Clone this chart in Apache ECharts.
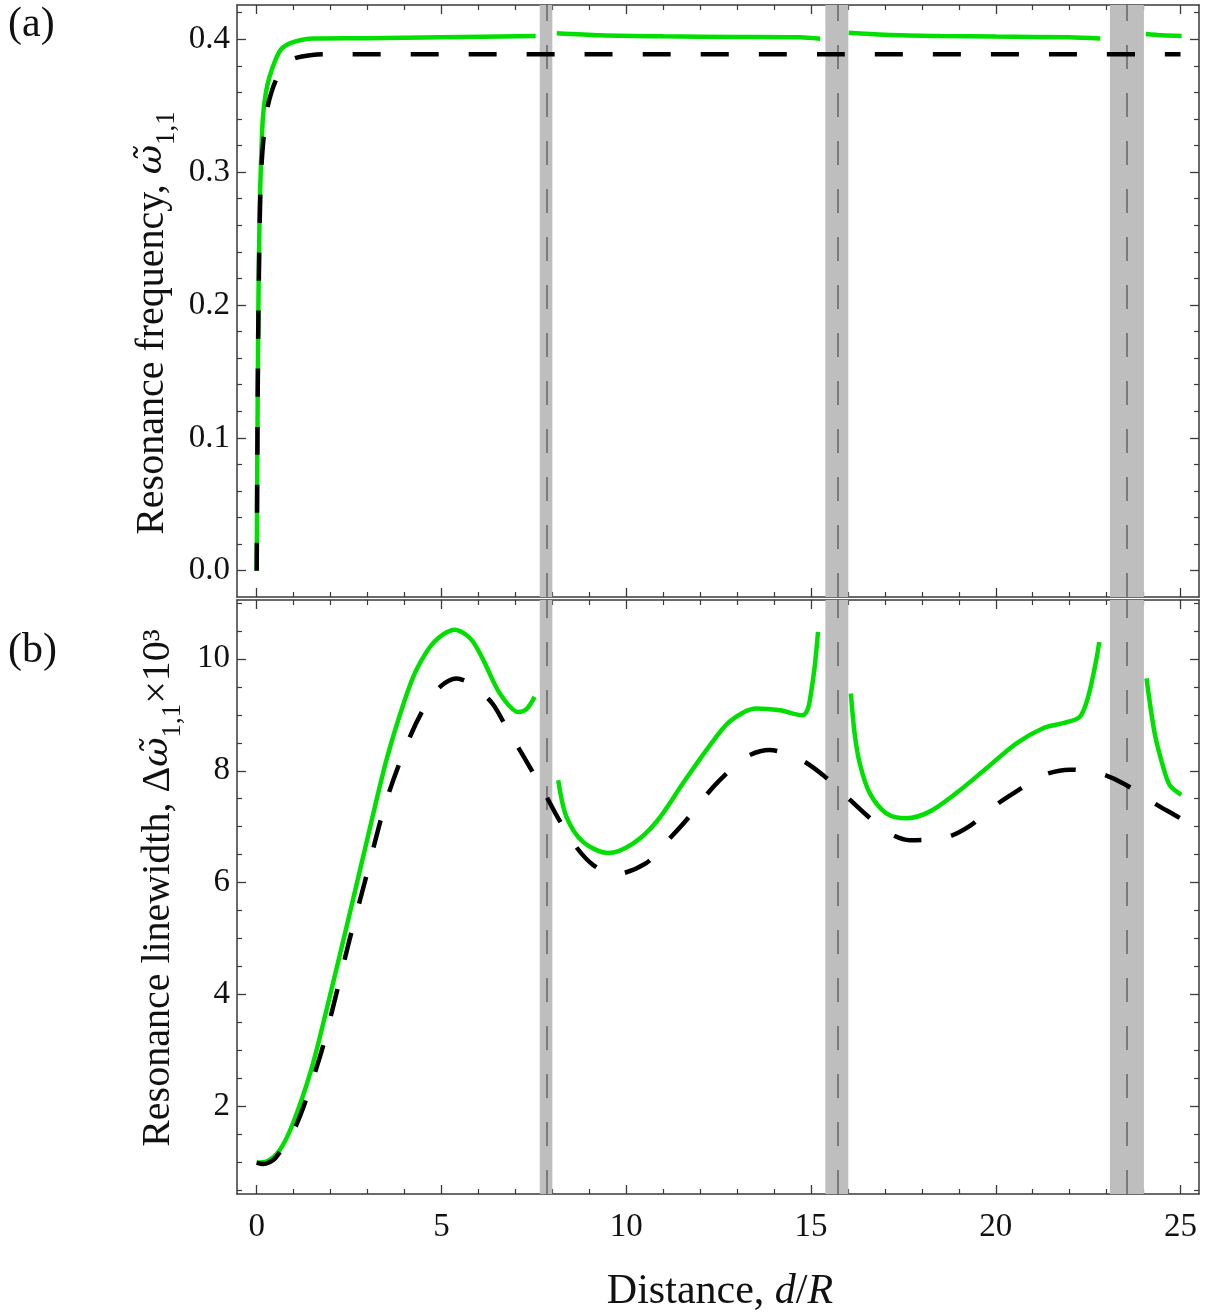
<!DOCTYPE html>
<html>
<head>
<meta charset="utf-8">
<script src="https://cdn.jsdelivr.net/npm/echarts@6/dist/echarts.min.js"></script>
<style>
html,body{margin:0;padding:0;background:#fff;}
#chart{width:1216px;height:1315px;}
</style>
</head>
<body>
<div id="chart"></div>
<script>
// ---------- data ----------
const xMajor = [0, 5, 10, 15, 20, 25];
const xMinor = [1,2,3,4,6,7,8,9,11,12,13,14,16,17,18,19,21,22,23,24];
const yTopMajor = [0.0, 0.1, 0.2, 0.3, 0.4];
const yTopMinor = [0.02,0.04,0.06,0.08,0.12,0.14,0.16,0.18,0.22,0.24,0.26,0.28,0.32,0.34,0.36,0.38,0.42];
const yBotMajor = [2, 4, 6, 8, 10];
const yBotMinor = [0.5,1,1.5,2.5,3,3.5,4.5,5,5.5,6.5,7,7.5,8.5,9,9.5,10.5,11];

// gray bands (start, end) and their dashed centre lines
const bandStart = [7.66, 15.39, 23.09];
const bandEnd   = [8.00, 16.01, 24.01];
const bandCenter = [7.85, 15.72, 23.55];

// (a) resonance frequency
const topDashed = [[0,0],[0.01,0.05],[0.02,0.1],[0.035,0.16],[0.05,0.2],[0.08,0.26],[0.12,0.3],[0.2,0.33],[0.3,0.35],[0.53,0.37],[0.8,0.381],[1.03,0.3857],[1.5,0.3882],[2,0.3887],[25,0.3887]];
const topGreen1 = [[0,0],[0.01,0.05],[0.02,0.1],[0.035,0.16],[0.05,0.21],[0.08,0.27],[0.12,0.31],[0.17,0.342],[0.25,0.36],[0.35,0.372],[0.5,0.384],[0.66,0.3925],[0.9,0.397],[1.2,0.3995],[1.5,0.4005],[3,0.4008],[5,0.4015],[7.55,0.4025]];
const topGreen2 = [[8.12,0.4045],[9.3,0.403],[11,0.4022],[13,0.4018],[14.7,0.4015],[15.25,0.4004]];
const topGreen3 = [[16.02,0.405],[17,0.4035],[18.5,0.4025],[20,0.402],[22,0.4015],[22.83,0.4005]];
const topGreen4 = [[24.06,0.404],[24.5,0.403],[25.03,0.4025]];

// (b) resonance linewidth x 10^3
const botDashed = [[0,1.0],[0.17,0.975],[0.5,1.08],[1.07,1.67],[1.71,2.89],[2.07,3.79],[2.5,4.95],[2.92,6.0],[3.5,7.45],[4.15,8.61],[4.6,9.2],[5.0,9.52],[5.4,9.65],[5.8,9.55],[6.38,9.2],[6.8,8.72],[7.28,8.19],[7.84,7.54],[8.16,7.15],[8.61,6.67],[9.1,6.32],[9.7,6.15],[10.54,6.35],[11.09,6.73],[11.63,7.12],[12.13,7.54],[12.62,7.89],[13.25,8.25],[13.88,8.37],[14.74,8.19],[15.33,7.92],[15.96,7.54],[16.5,7.21],[17.13,6.88],[17.67,6.76],[18.66,6.81],[19.29,7.01],[20.01,7.39],[20.56,7.63],[21.28,7.92],[22.0,8.02],[22.82,7.95],[23.49,7.76],[24.21,7.45],[24.84,7.21],[25,7.15]];
const botGreen1 = [[0,1.0],[0.3,1.03],[0.62,1.22],[0.98,1.7],[1.48,2.67],[1.89,3.73],[2.5,5.4],[3.0,6.8],[3.51,8.19],[4.0,9.25],[4.32,9.8],[4.8,10.3],[5.36,10.52],[5.8,10.35],[6.13,9.98],[6.58,9.38],[7.08,9.05],[7.3,9.1],[7.52,9.32]];
const botGreen2 = [[8.16,7.83],[8.38,7.18],[8.83,6.73],[9.51,6.53],[10.18,6.7],[10.82,7.09],[11.54,7.78],[12.17,8.37],[12.8,8.88],[13.52,9.11],[14.16,9.08],[14.77,8.99],[14.9,9.08],[14.97,9.26],[15.1,9.86],[15.19,10.48]];
const botGreen3 = [[16.08,9.38],[16.18,8.67],[16.32,8.13],[16.59,7.6],[17.04,7.24],[17.58,7.15],[18.21,7.27],[18.93,7.6],[19.74,8.04],[20.56,8.49],[21.28,8.76],[21.82,8.85],[22.27,8.96],[22.5,9.32],[22.72,9.98],[22.8,10.3]];
const botGreen4 = [[24.08,9.65],[24.3,8.67],[24.53,8.07],[24.71,7.74],[25.02,7.57]];

// ---------- styling ----------
const FONT = '"Liberation Serif", "DejaVu Serif", serif';
const GFONT = '"DejaVu Serif", serif';
const GREEN = '#00e000';
const FRAME = '#3a3a3a';
const X_MIN = -0.533, X_MAX = 25.50;
const TOP_MIN = -0.0198, TOP_MAX = 0.4258;
const BOT_MIN = 0.44, BOT_MAX = 11.05;

function xAxes(gridIndex, showLabels) {
  const base = {gridIndex, type:'value', min:X_MIN, max:X_MAX, splitLine:{show:false}};
  const line = {show:true, onZero:false, lineStyle:{color:FRAME, width:1.5}};
  return [
    Object.assign({}, base, {position:'bottom', axisLine:line,
      axisTick:{show:true, inside:true, length:9, customValues:xMajor, lineStyle:{color:FRAME, width:1.3}},
      axisLabel:{show:showLabels, customValues:xMajor, margin:17, color:'#111', fontFamily:FONT, fontSize:33}}),
    Object.assign({}, base, {position:'bottom', axisLine:{show:false, onZero:false},
      axisTick:{show:true, inside:true, length:5, customValues:xMinor, lineStyle:{color:FRAME, width:1.2}},
      axisLabel:{show:false}}),
    Object.assign({}, base, {position:'top', axisLine:line,
      axisTick:{show:true, inside:true, length:9, customValues:xMajor, lineStyle:{color:FRAME, width:1.3}},
      axisLabel:{show:false}}),
    Object.assign({}, base, {position:'top', axisLine:{show:false, onZero:false},
      axisTick:{show:true, inside:true, length:5, customValues:xMinor, lineStyle:{color:FRAME, width:1.2}},
      axisLabel:{show:false}})
  ];
}
function yAxes(gridIndex, min, max, major, minor, fmt) {
  const base = {gridIndex, type:'value', min, max, splitLine:{show:false}};
  const line = {show:true, onZero:false, lineStyle:{color:FRAME, width:1.5}};
  return [
    Object.assign({}, base, {position:'left', axisLine:line,
      axisTick:{show:true, inside:true, length:9, customValues:major, lineStyle:{color:FRAME, width:1.3}},
      axisLabel:{show:true, customValues:major, margin:7, color:'#111', fontFamily:FONT, fontSize:33, formatter:fmt}}),
    Object.assign({}, base, {position:'left', axisLine:{show:false, onZero:false},
      axisTick:{show:true, inside:true, length:5, customValues:minor, lineStyle:{color:FRAME, width:1.2}},
      axisLabel:{show:false}}),
    Object.assign({}, base, {position:'right', axisLine:line,
      axisTick:{show:true, inside:true, length:9, customValues:major, lineStyle:{color:FRAME, width:1.3}},
      axisLabel:{show:false}}),
    Object.assign({}, base, {position:'right', axisLine:{show:false, onZero:false},
      axisTick:{show:true, inside:true, length:5, customValues:minor, lineStyle:{color:FRAME, width:1.2}},
      axisLabel:{show:false}})
  ];
}

function greenSeries(data, xi, yi) {
  return {type:'line', data, xAxisIndex:xi, yAxisIndex:yi, showSymbol:false, symbol:'none',
    smooth:0.3, z:4, silent:true,
    lineStyle:{color:GREEN, width:4.5, cap:'butt'}};
}
function dashedSeries(data, xi, yi) {
  return {type:'line', data, xAxisIndex:xi, yAxisIndex:yi, showSymbol:false, symbol:'none',
    smooth:0.3, z:5, silent:true,
    lineStyle:{color:'#000', width:4.5, type:[28,30], cap:'butt'}};
}
function bandSeries(xi, yi, ymin) {
  return {type:'line', data:[[X_MIN, ymin],[X_MAX, ymin]], xAxisIndex:xi, yAxisIndex:yi,
    showSymbol:false, symbol:'none', z:1, silent:true, lineStyle:{opacity:0},
    markArea:{silent:true, itemStyle:{color:'#bebebe', opacity:1},
      data: bandStart.map((s,i)=>[{xAxis:s},{xAxis:bandEnd[i]}])},
    markLine:{silent:true, symbol:['none','none'], label:{show:false},
      lineStyle:{color:'#6a6a6a', width:1.6, type:[24,24]},
      data: bandCenter.map(c=>({xAxis:c}))}
  };
}

const richY = {
  n:{fontFamily:FONT, fontSize:40, lineHeight:56, fill:'#111'},
  i:{fontFamily:GFONT, fontSize:36, fontStyle:'italic', lineHeight:56, fill:'#111'},
  s:{fontFamily:FONT, fontSize:27, lineHeight:28, verticalAlign:'bottom', fill:'#111'}
};

const option = {
  animation:false,
  backgroundColor:'#fff',
  grid:[
    {left:237, right:17, top:5, height:592},
    {left:237, right:17, top:600, height:594}
  ],
  xAxis: xAxes(0, false).concat(xAxes(1, true)),
  yAxis: yAxes(0, TOP_MIN, TOP_MAX, yTopMajor, yTopMinor, v=>v.toFixed(1))
    .concat(yAxes(1, BOT_MIN, BOT_MAX, yBotMajor, yBotMinor, v=>String(Math.round(v)))),
  series:[
    bandSeries(0,0,0),
    dashedSeries(topDashed,0,0),
    greenSeries(topGreen1,0,0),
    greenSeries(topGreen2,0,0),
    greenSeries(topGreen3,0,0),
    greenSeries(topGreen4,0,0),
    bandSeries(4,4,1),
    dashedSeries(botDashed,4,4),
    greenSeries(botGreen1,4,4),
    greenSeries(botGreen2,4,4),
    greenSeries(botGreen3,4,4),
    greenSeries(botGreen4,4,4)
  ],
  graphic:[
    {type:'text', left:8, top:4, style:{text:'(a)', font:'42px ' + FONT, fill:'#111'}},
    {type:'text', left:8, top:630, style:{text:'(b)', font:'42px ' + FONT, fill:'#111'}},
    {type:'text', x:152, y:323, rotation:Math.PI/2,
      style:{text:'{n|Resonance frequency, }{i|\u03C9\u0303}{s|1,1}', align:'center', verticalAlign:'middle', fill:'#111',
        rich:richY}},
    {type:'text', x:158, y:888, rotation:Math.PI/2,
      style:{text:'{n|Resonance linewidth, \u0394}{i|\u03C9\u0303}{s|1,1}{n|\u00D710\u00B3}', align:'center', verticalAlign:'middle', fill:'#111',
        rich:richY}},
    {type:'text', x:720, y:1292, style:{text:'{n|Distance, }{i|d}{n|/}{i|R}', align:'center', verticalAlign:'middle', fill:'#111',
        rich:{
          n:{fontFamily:FONT, fontSize:42, fill:'#111'},
          i:{fontFamily:FONT, fontSize:42, fontStyle:'italic', fill:'#111'}
        }}}
  ]
};

const chart = echarts.init(document.getElementById('chart'), null, {renderer:'canvas'});
chart.setOption(option);
</script>
</body>
</html>
